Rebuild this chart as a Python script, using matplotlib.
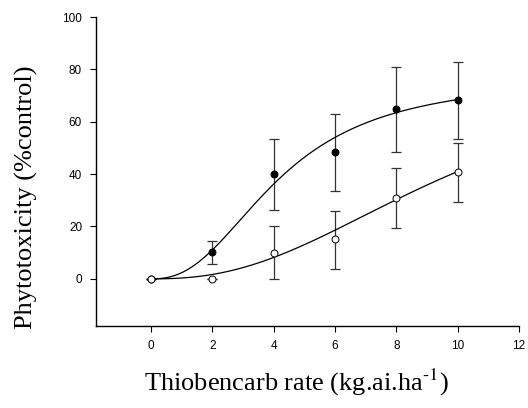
import numpy as np
import matplotlib
matplotlib.use("Agg")
import matplotlib.pyplot as plt

plt.rcParams["mathtext.fontset"] = "stix"

# rates (kg ai/ha)
rate = [0, 2, 4, 6, 8, 10]

# filled circles
tox_a = [0, 10.2, 40.1, 48.3, 65.0, 68.4]
err_a_lo = [0, 4.6, 13.9, 14.8, 16.4, 14.8]
err_a_hi = [0, 4.2, 13.3, 14.6, 16.0, 14.5]

# open circles
tox_b = [0, 0, 10.0, 15.1, 31.0, 41.0]
err_b_lo = [0, 0, 10.0, 11.3, 11.7, 11.7]
err_b_hi = [0, 0, 10.0, 11.0, 11.2, 11.0]

# fitted log-logistic curves (top, x50, slope)
fit_a = (77.0, 4.2, 2.4)
fit_b = (82.0, 10.0, 2.4)

xticks = [0, 2, 4, 6, 8, 10, 12]
yticks = [0, 20, 40, 60, 80, 100]


def loglogistic(x, top, x50, slope):
    x = np.asarray(x, dtype=float)
    out = np.zeros_like(x)
    pos = x > 0
    out[pos] = top / (1 + (x50 / x[pos]) ** slope)
    return out


fig = plt.figure(figsize=(5.28, 4.08), dpi=100)
ax = fig.add_axes([96 / 528, 82 / 408, (519 - 96) / 528, (326 - 17) / 408])

xs = np.linspace(0, 10, 200)
ax.plot(xs, loglogistic(xs, *fit_a), color="black", lw=0.9, zorder=2)
ax.plot(xs, loglogistic(xs, *fit_b), color="black", lw=0.9, zorder=2)

ax.errorbar(rate, tox_a, yerr=[err_a_lo, err_a_hi], fmt="none", ecolor="#333333",
            elinewidth=0.9, capsize=3.6, capthick=0.9, zorder=1)
ax.errorbar(rate, tox_b, yerr=[err_b_lo, err_b_hi], fmt="none", ecolor="#333333",
            elinewidth=0.9, capsize=3.6, capthick=0.9, zorder=1)

ax.plot(rate, tox_a, "o", ms=5, mfc="black", mec="black", mew=0.7, zorder=3)
ax.plot(rate, tox_b, "o", ms=5, mfc="white", mec="black", mew=0.7, zorder=4)

ax.set_xlim(-1.8, 12)
ax.set_ylim(-18, 100)
ax.set_xticks(xticks)
ax.set_yticks(yticks)
for s in ["top", "right"]:
    ax.spines[s].set_visible(False)
for s in ["left", "bottom"]:
    ax.spines[s].set_linewidth(1.0)
ax.tick_params(direction="out", length=4, width=0.8, labelsize=8.5, pad=6)
for lab in ax.get_xticklabels() + ax.get_yticklabels():
    lab.set_family("Liberation Sans")

fig.text(26 / 528, 1 - 197 / 408, "Phytotoxicity (%control)", rotation=90,
         ha="center", va="center", family="Liberation Serif", fontsize=19)
fig.text(296 / 528, 1 - 382 / 408, r"Thiobencarb rate (kg.ai.ha$^{\text{-1}}$)",
         ha="center", va="center", family="Liberation Serif", fontsize=19)

fig.savefig("out.png", dpi=100)
